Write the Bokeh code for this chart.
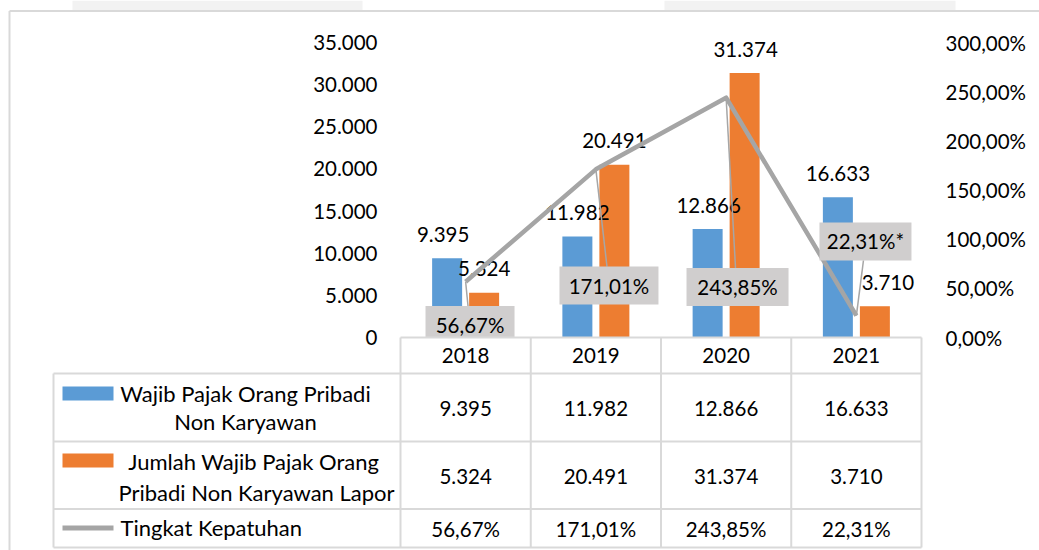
from bokeh.plotting import figure
from bokeh.models import Range1d, LinearAxis, FixedTicker, CustomJSTickFormatter, ColumnDataSource
from bokeh.core.properties import value
from bokeh.embed import file_html
from bokeh.resources import INLINE

# ---------------- data ----------------
years = ["2018", "2019", "2020", "2021"]
wp_non_karyawan = [9395, 11982, 12866, 16633]
wp_lapor = [5324, 20491, 31374, 3710]
kepatuhan = [56.67, 171.01, 243.85, 22.31]
kepatuhan_suffix = ["", "", "", "*"]
left_ticks = [0, 5000, 10000, 15000, 20000, 25000, 30000, 35000]
right_ticks = [0, 50, 100, 150, 200, 250, 300]
series_names = [
    ["Wajib Pajak Orang Pribadi", "Non Karyawan"],
    [" Jumlah Wajib Pajak Orang", "Pribadi Non Karyawan Lapor"],
    ["Tingkat Kepatuhan"],
]

# ---------------- styles / layout ----------------
BLUE, ORANGE, GRAY = "#5B9BD5", "#ED7D31", "#A5A5A5"
BOX_FILL = "#D0CECE"
GRID = "#D9D9D9"
FONT = "Lato"
FS = "20.5px"
FS_LEG = "22px"
TXT = "#000000"

W, H = 1039, 550
FL, FR, FT, FB = 400, 921, 42, 337          # plot area in canvas px
CAT_PX = (FR - FL) / 4.0
CNT_MAX, PCT_MAX = 35000, 300
CNT_PX = CNT_MAX / (FB - FT)
PCT_PX = PCT_MAX / (FB - FT)

x_range = Range1d(-0.5 - FL / CAT_PX, 3.5 + (W - FR) / CAT_PX)
y_range = Range1d(-(H - FB) * CNT_PX, CNT_MAX + FT * CNT_PX)

p = figure(width=W, height=H, x_range=x_range, y_range=y_range,
           x_axis_location=None, y_axis_location=None,
           toolbar_location=None, output_backend="svg",
           min_border=0, min_border_left=0, min_border_right=0,
           min_border_top=0, min_border_bottom=0)
p.outline_line_color = None
p.background_fill_color = "white"
p.border_fill_color = "white"
p.grid.visible = False
p.extra_y_ranges = {"pct": Range1d(-(H - FB) * PCT_PX, PCT_MAX + FT * PCT_PX),
                    "px": Range1d(H, 0)}
p.extra_x_ranges = {"px": Range1d(0, W)}

# ---------------- axes ----------------
left_fmt = CustomJSTickFormatter(code="""
const s = Math.round(tick).toString();
return s.replace(/\\B(?=(\\d{3})+(?!\\d))/g, ".");
""")
right_fmt = CustomJSTickFormatter(code="""
return tick.toFixed(2).replace(".", ",") + "%";
""")
for side, rng, ticks, fmt, loc, standoff in [
        ("left", "default", left_ticks, left_fmt, -0.5, 23),
        ("right", "pct", right_ticks, right_fmt, 3.5, 24)]:
    ax = LinearAxis(y_range_name=rng, fixed_location=loc,
                    ticker=FixedTicker(ticks=ticks), formatter=fmt,
                    axis_line_color=None, major_tick_line_color=None,
                    minor_tick_line_color=None, major_tick_out=0, major_tick_in=0,
                    major_label_standoff=standoff,
                    major_label_text_font=FONT, major_label_text_font_size=FS,
                    major_label_text_color=TXT)
    p.add_layout(ax, side)

# ---------------- chart border ----------------
p.quad(left=[72, 664], right=[362, 955], top=[0, 0], bottom=[10, 10],
       x_range_name="px", y_range_name="px", fill_color="#F2F2F2", line_color=None)
p.segment(x0=[9, 9], y0=[10.5, 10.5], x1=[9, W], y1=[H, 10.5],
          x_range_name="px", y_range_name="px", line_color=GRID, line_width=2)

# ---------------- bars ----------------
idx = list(range(len(years)))
BAR_W = 30 / CAT_PX
OFF = 18.5 / CAT_PX
src = ColumnDataSource(dict(
    xb=[i - OFF for i in idx], xo=[i + OFF for i in idx],
    wp=wp_non_karyawan, lp=wp_lapor, pct=kepatuhan))
p.vbar(x="xb", top="wp", bottom=0, width=BAR_W, source=src, fill_color=BLUE, line_color=None)
p.vbar(x="xo", top="lp", bottom=0, width=BAR_W, source=src, fill_color=ORANGE, line_color=None)

def fmt_int(v):
    return f"{v:,}".replace(",", ".")

def fmt_pct(v):
    return f"{v:.2f}".replace(".", ",") + "%"

LAB_UP = 24  # px above bar top
blue_dx = [-4, 0, 1, 0]
orange_dx = [0, 0, 1, 13]
p.text(x=[i - OFF + d / CAT_PX for i, d in zip(idx, blue_dx)],
       y=[v + LAB_UP * CNT_PX for v in wp_non_karyawan],
       text=[fmt_int(v) for v in wp_non_karyawan],
       text_align="center", text_baseline="middle",
       text_font=value(FONT), text_font_size=FS, text_color=TXT)
p.text(x=[i + OFF + d / CAT_PX for i, d in zip(idx, orange_dx)],
       y=[v + LAB_UP * CNT_PX for v in wp_lapor],
       text=[fmt_int(v) for v in wp_lapor],
       text_align="center", text_baseline="middle",
       text_font=value(FONT), text_font_size=FS, text_color=TXT)

# ---------------- line + its labels ----------------
box_dx = [4.4, 13.1, 11.4, 9.1]      # px offsets of data-label boxes
box_dy = [43.2, 116.2, 189.3, -74.1]  # px, positive = below point
box_w = [89, 99, 102, 92]
BOX_H = 38
bx = [i + dx / CAT_PX for i, dx in zip(idx, box_dx)]
by = [v - dy * PCT_PX for v, dy in zip(kepatuhan, box_dy)]
edge = [b + (BOX_H / 2) * PCT_PX if dy > 0 else b - (BOX_H / 2) * PCT_PX
        for b, dy in zip(by, box_dy)]
lead_x = [b - 2 / CAT_PX for b in bx]

p.line(x=idx, y=kepatuhan, y_range_name="pct", line_color=GRAY, line_width=4.5,
       line_join="round")
p.segment(x0=idx, y0=kepatuhan, x1=lead_x, y1=edge, y_range_name="pct",
          line_color="#A6A6A6", line_width=1.5)
p.rect(x=bx, y=by, width=box_w, height=[BOX_H] * 4, width_units="screen",
       height_units="screen", y_range_name="pct", fill_color=BOX_FILL, line_color=None)
p.text(x=bx, y=by, text=[fmt_pct(v) + s for v, s in zip(kepatuhan, kepatuhan_suffix)],
       y_range_name="pct", text_align="center", text_baseline="middle",
       text_font=value(FONT), text_font_size=FS, text_color=TXT)

# ---------------- data table ----------------
p.quad(left=[-0.5], right=[3.5], top=[337], bottom=[373],
       y_range_name="px", fill_color="white", line_color=None)
row_lines = [373, 441, 508.5, 547]
p.segment(x0=[-0.5], y0=[337], x1=[3.5], y1=[337], y_range_name="px",
          line_color=GRID, line_width=2)
leg_left_x = -0.5 - (400 - 53) / CAT_PX
p.segment(x0=[leg_left_x] * 4, y0=row_lines, x1=[3.5] * 4, y1=row_lines,
          y_range_name="px", line_color=GRID, line_width=2)
bounds = [i - 0.5 for i in idx] + [3.5]
p.segment(x0=bounds, y0=[337] * 5, x1=bounds, y1=[547] * 5,
          y_range_name="px", line_color=GRID, line_width=2)
p.segment(x0=[leg_left_x], y0=[373], x1=[leg_left_x], y1=[547],
          y_range_name="px", line_color=GRID, line_width=2)

row_y = [355, 408, 476, 528]
table_rows = [years, [fmt_int(v) for v in wp_non_karyawan],
              [fmt_int(v) for v in wp_lapor], [fmt_pct(v) for v in kepatuhan]]
for ry, vals in zip(row_y, table_rows):
    p.text(x=idx, y=[ry] * len(idx), text=vals, y_range_name="px",
           text_align="center", text_baseline="middle",
           text_font=value(FONT), text_font_size=FS, text_color=TXT)

# legend keys
p.quad(left=[62, 62], right=[113, 113], top=[386, 453], bottom=[400, 467],
       x_range_name="px", y_range_name="px", fill_color=[BLUE, ORANGE], line_color=None)
p.segment(x0=[62], y0=[527.5], x1=[113], y1=[527.5], x_range_name="px",
          y_range_name="px", line_color=GRAY, line_width=5)
# legend texts
p.text(x=[245, 245], y=[393, 421], text=series_names[0], x_range_name="px",
       y_range_name="px", text_align="center", text_baseline="middle",
       text_font=value(FONT), text_font_size=FS_LEG, text_color=TXT)
p.text(x=[256, 256], y=[461, 492], text=series_names[1], x_range_name="px",
       y_range_name="px", text_align="center", text_baseline="middle",
       text_font=value(FONT), text_font_size=FS_LEG, text_color=TXT)
p.text(x=[120], y=[527], text=series_names[2], x_range_name="px",
       y_range_name="px", text_align="left", text_baseline="middle",
       text_font=value(FONT), text_font_size=FS_LEG, text_color=TXT)

open("out.html", "w").write(file_html(p, INLINE))
